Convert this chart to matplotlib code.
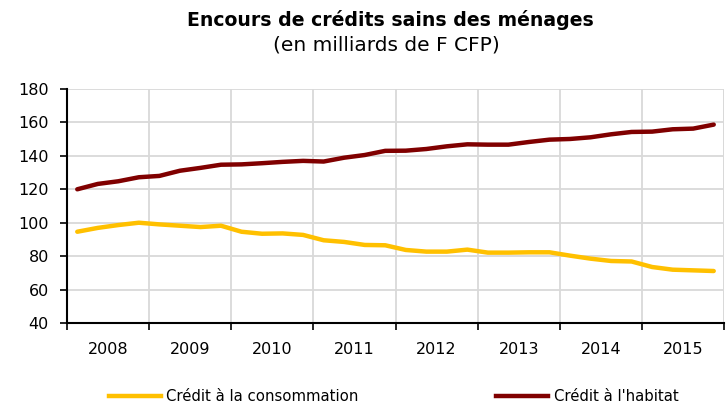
import matplotlib
matplotlib.use("Agg")
import matplotlib.pyplot as plt
from matplotlib.lines import Line2D
import numpy as np

years = ["2008", "2009", "2010", "2011", "2012", "2013", "2014", "2015"]
conso = [94.6, 96.9, 98.6, 100.0, 99.0, 98.2, 97.4, 98.2,
         94.6, 93.4, 93.6, 92.7, 89.5, 88.5, 86.7, 86.5,
         83.7, 82.7, 82.7, 83.9, 82.1, 82.1, 82.3, 82.3,
         80.3, 78.5, 77.1, 76.8, 73.5, 71.9, 71.5, 71.1]
habitat = [120.0, 123.2, 124.8, 127.2, 128.0, 131.1, 132.8, 134.7,
           134.9, 135.6, 136.4, 137.0, 136.6, 138.9, 140.5, 143.0,
           143.1, 144.1, 145.7, 146.9, 146.7, 146.7, 148.3, 149.7,
           150.1, 151.1, 152.9, 154.3, 154.5, 155.9, 156.3, 158.7]
labels = ["Crédit à la consommation", "Crédit à l'habitat"]
colors = ["#FFC000", "#800000"]

plt.rcParams['font.family'] = ['DejaVu Sans']
fig = plt.figure(figsize=(7.28, 4.05), dpi=100)
ax = fig.add_axes([67/728, 1-323/405, (724-67)/728, (323-89)/405])

x = np.arange(len(conso)) + 0.5
ax.plot(x, conso, color=colors[0], lw=3.2, solid_capstyle='round')
ax.plot(x, habitat, color=colors[1], lw=3.2, solid_capstyle='round')

ax.set_xlim(0, len(conso))
ax.set_ylim(40, 180)
ax.set_yticks(np.arange(40, 181, 20))
ax.set_xticks(np.arange(0, len(conso) + 1, 4))
ax.set_xticklabels([])
ax.set_xticks(np.arange(len(years)) * 4 + 2, minor=True)
ax.set_xticklabels(years, minor=True)
ax.tick_params(axis='x', which='minor', length=0, pad=14, labelsize=11.5)
ax.tick_params(axis='x', which='major', length=5, width=1.2, direction='out')
ax.tick_params(axis='y', length=5, width=1.2, direction='out', labelsize=11.5, pad=8)
ax.grid(True, which='major', color='#D9D9D9', lw=1.3)
ax.set_axisbelow(True)
for s in ['top', 'right']:
    ax.spines[s].set_visible(False)
for s in ['left', 'bottom']:
    ax.spines[s].set_linewidth(1.5)
    ax.spines[s].set_color('black')
ax.axvline(len(conso), color='#D9D9D9', lw=1.3, zorder=0)

fig.text(0.536, 0.951, "Encours de crédits sains des ménages", ha='center', va='center',
         fontsize=13.6, fontweight='bold')
fig.text(0.531, 0.889, "(en milliards de F CFP)", ha='center', va='center', fontsize=14.5)

handles = [Line2D([], [], color=c, lw=3.2) for c in colors]
leg = fig.legend(handles, labels, loc='center', bbox_to_anchor=(0.5405, 0.02), ncol=2,
                 frameon=False, fontsize=10.7, handlelength=3.5, columnspacing=9.3,
                 handletextpad=0.35, borderpad=0)

fig.savefig("out.png", dpi=100)
